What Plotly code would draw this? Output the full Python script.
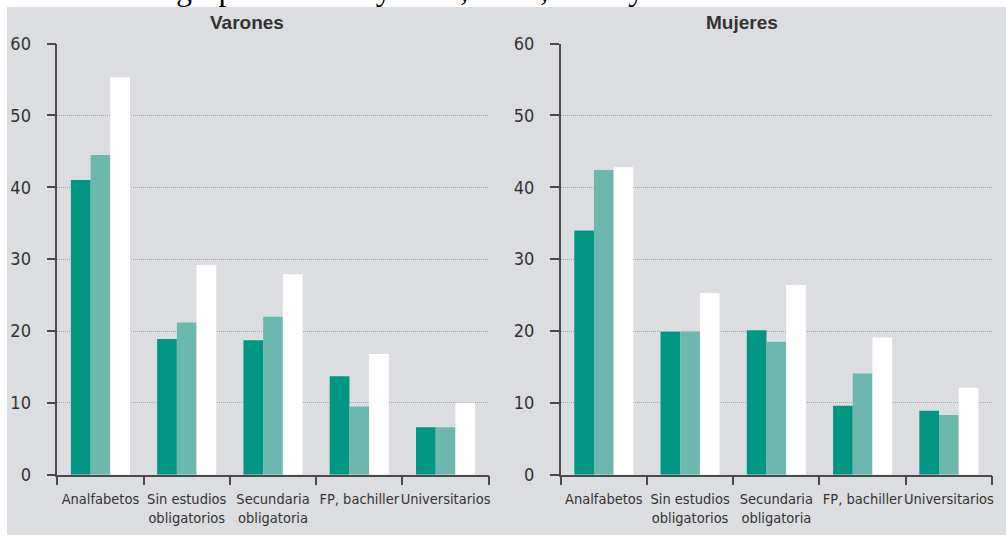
import plotly.graph_objects as go

categories = ["Analfabetos", "Sin estudios<br>obligatorios", "Secundaria<br>obligatoria",
              "FP, bachiller", "Universitarios"]
years = ["2007", "2009", "2013"]
colors = ["#009683", "#6cb8ae", "#ffffff"]

varones = {
    "2007": [41.0, 18.9, 18.7, 13.7, 6.6],
    "2009": [44.5, 21.2, 22.0, 9.5, 6.6],
    "2013": [55.3, 29.2, 27.9, 16.8, 10.0],
}
mujeres = {
    "2007": [34.0, 19.9, 20.1, 9.6, 8.9],
    "2009": [42.4, 19.9, 18.5, 14.1, 8.3],
    "2013": [42.8, 25.3, 26.4, 19.1, 12.1],
}
panel_titles = ["Varones", "Mujeres"]
y_ticks = [0, 10, 20, 30, 40, 50, 60]
top_text = "a en distintos grupos de sexo y edad, 2007, 2009 y 2013."

W, H = 1006, 539
FONT = "DejaVu Sans Condensed, Liberation Sans Narrow, Liberation Sans, sans-serif"

fig = go.Figure()
for p, data in enumerate([varones, mujeres]):
    xa = "x" if p == 0 else "x2"
    ya = "y" if p == 0 else "y2"
    for i, yr in enumerate(years):
        fig.add_trace(go.Bar(
            x=categories, y=data[yr], name=yr, marker_color=colors[i],
            marker_line_width=0, xaxis=xa, yaxis=ya, showlegend=False,
        ))

def px(v):
    return v / W

def py(v):
    return 1 - v / H

y_dom = [py(474.7), py(43.6)]
axis_common = dict(showline=True, linecolor="#4a4a4a", linewidth=1.5,
                   ticks="outside", tickcolor="#4a4a4a", tickwidth=1.5,
                   automargin=False)
x_common = dict(axis_common, type="category", tickson="boundaries", ticklen=9,
                tickangle=0, showgrid=False, ticklabelstandoff=10,
                tickfont=dict(family=FONT, size=14.5, color="#333333"),
                range=[-0.5, 4.5], fixedrange=True)
y_common = dict(axis_common, range=[0, 60], tickvals=y_ticks, ticklen=9,
                showgrid=True, gridcolor="#a6a6a6", gridwidth=1, griddash="1px,1px",
                zeroline=False, ticklabelstandoff=12,
                tickfont=dict(family=FONT, size=18, color="#333333"), domain=y_dom)

fig.update_layout(
    width=W, height=H,
    margin=dict(l=0, r=0, t=0, b=0, autoexpand=False),
    paper_bgcolor="#ffffff",
    plot_bgcolor="rgba(0,0,0,0)",
    barmode="group", bargap=0.315, bargroupgap=0,
    xaxis=dict(x_common, domain=[px(57.3), px(488.7)], anchor="y"),
    yaxis=dict(y_common, anchor="x"),
    xaxis2=dict(x_common, domain=[px(560.7), px(992)], anchor="y2"),
    yaxis2=dict(y_common, anchor="x2"),
    shapes=[dict(type="rect", xref="paper", yref="paper", layer="below",
                 x0=px(7), x1=1, y0=py(535), y1=py(7),
                 fillcolor="#dcdde0", line_width=0)],
    annotations=[
        dict(text="<b>" + panel_titles[0] + "</b>", xref="paper", yref="paper",
             x=px(247), y=py(22), xanchor="center", yanchor="middle", showarrow=False,
             font=dict(family="Liberation Sans, Arial, sans-serif", size=19, color="#333333")),
        dict(text="<b>" + panel_titles[1] + "</b>", xref="paper", yref="paper",
             x=px(742), y=py(22), xanchor="center", yanchor="middle", showarrow=False,
             font=dict(family="Liberation Sans, Arial, sans-serif", size=19, color="#333333")),
        dict(text=top_text, xref="paper", yref="paper",
             x=px(-3), y=py(9), xanchor="left", yanchor="bottom", showarrow=False,
             font=dict(family="Liberation Serif, Times New Roman, serif", size=32, color="#000000")),
    ],
)

fig.write_html("out.html", config={"displayModeBar": False},
               post_script="document.body.style.margin='0';")
